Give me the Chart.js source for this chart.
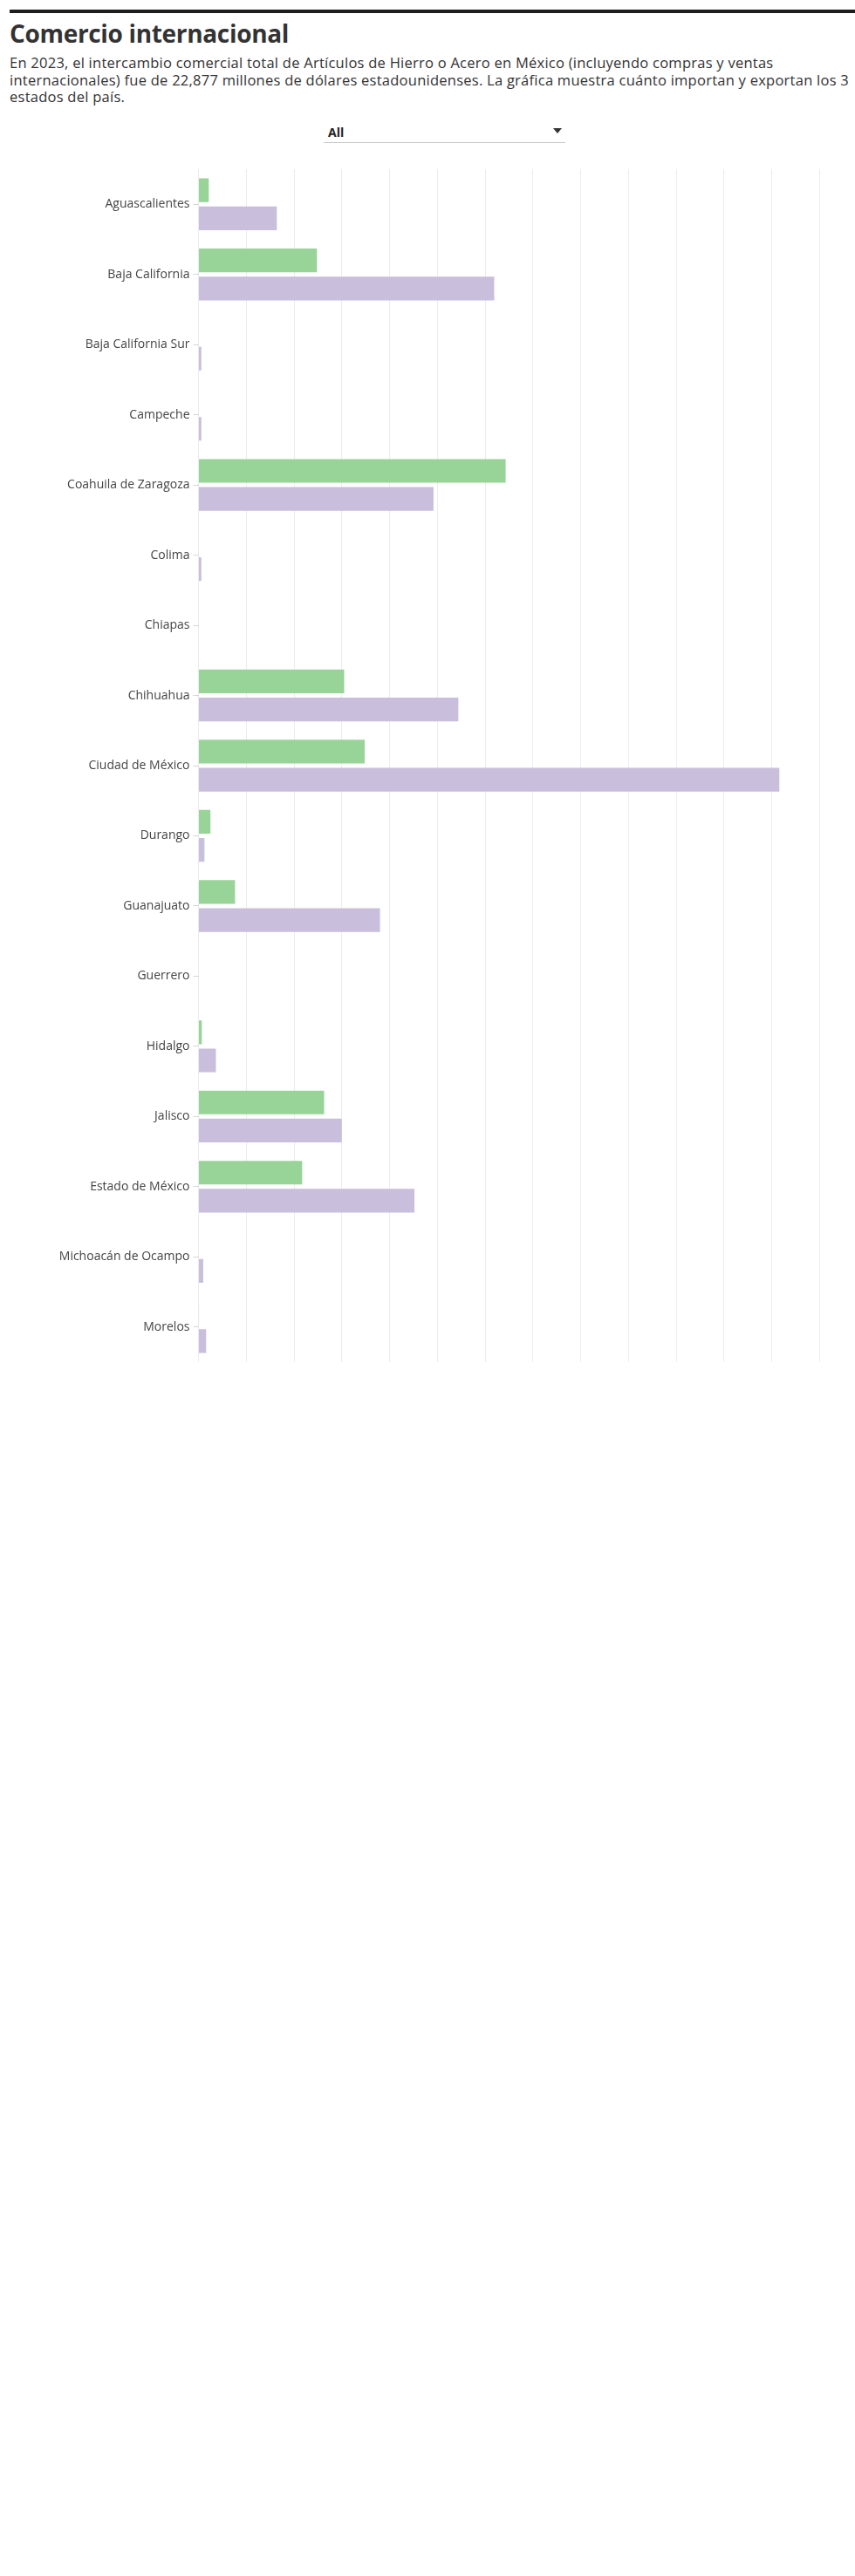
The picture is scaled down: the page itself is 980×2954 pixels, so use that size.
<!DOCTYPE html>
<html lang="es">
<head>
<meta charset="utf-8">
<title>Comercio internacional</title>
<script src="https://cdn.jsdelivr.net/npm/chart.js@4.4.1/dist/chart.umd.min.js"></script>
<style>
  html, body { margin: 0; padding: 0; background: #fff; }
  body { width: 980px; height: 2954px; position: relative; font-family: "Open Sans", "Noto Sans", sans-serif; color: #333; overflow: hidden; }
  .rule { position: absolute; left: 11px; right: 0; top: 11px; height: 4px; background: #1e1e1e; }
  h1 { position: absolute; left: 11px; top: 18.4px; margin: 0; font-size: 28px; font-weight: 700; line-height: 40px; color: #333; white-space: nowrap; }
  .sub { position: absolute; left: 11px; top: 62.3px; margin: 0; font-size: 16.5px; line-height: 19.5px; color: #333; }
  .sub span { display: block; white-space: nowrap; }
  .dd { position: absolute; left: 371px; top: 141px; width: 277px; height: 22px; border-bottom: 1px solid #c8c8c8; }
  .dd .v { position: absolute; left: 5px; top: 0.7px; font-size: 14px; font-weight: 700; color: #222; }
  .dd .arr { position: absolute; right: 4px; top: 6px; width: 0; height: 0; border-left: 5.5px solid transparent; border-right: 5.5px solid transparent; border-top: 6px solid #333; }
  #wrap { position: absolute; left: 0; top: 194px; width: 980px; height: 1368px; }
</style>
</head>
<body>
<div class="rule"></div>
<h1 id="title">Comercio internacional</h1>
<div class="sub">
  <span id="l1">En 2023, el intercambio comercial total de Artículos de Hierro o Acero en México (incluyendo compras y ventas</span>
  <span id="l2">internacionales) fue de 22,877 millones de dólares estadounidenses. La gráfica muestra cuánto importan y exportan los 3</span>
  <span id="l3">estados del país.</span>
</div>
<div class="dd"><span class="v">All</span><span class="arr"></span></div>
<div id="wrap"><canvas id="c"></canvas></div>
<script>
// Categories (states)
const states = [
  "Aguascalientes", "Baja California", "Baja California Sur", "Campeche",
  "Coahuila de Zaragoza", "Colima", "Chiapas", "Chihuahua", "Ciudad de México",
  "Durango", "Guanajuato", "Guerrero", "Hidalgo", "Jalisco", "Estado de México",
  "Michoacán de Ocampo", "Morelos"
];
// Exportaciones (green), millones de USD (estimated)
const exportaciones = [43, 496, 0, 0, 1286, 0, 0, 610, 696, 50, 153, 0, 14, 526, 434, 0, 2];
// Importaciones (purple), millones de USD (estimated)
const importaciones = [328, 1238, 12, 12, 984, 12, 0, 1088, 2432, 25, 760, 0, 73, 600, 904, 20, 32];
// Value axis (hidden ticks)
const xMin = 0;
const xMax = 2600;
const xStep = 200;

const greenColor = "#98d398";
const purpleColor = "#c9bedb";

// Fit header text widths to the reference measurements via letter-spacing
function fitWidth(el, target) {
  const w = el.getBoundingClientRect().width;
  const n = el.textContent.length;
  if (n > 1 && w > 0) {
    return (target - w) / n;
  }
  return 0;
}
const titleEl = document.getElementById("title");
titleEl.style.letterSpacing = fitWidth(titleEl, 320) + "px";
const l2 = document.getElementById("l2");
document.querySelector(".sub").style.letterSpacing = fitWidth(l2, 962) + "px";

new Chart(document.getElementById("c"), {
  type: "bar",
  data: {
    labels: states,
    datasets: [
      { label: "Exportaciones", data: exportaciones, backgroundColor: greenColor, borderWidth: 0,
        barPercentage: 0.845, categoryPercentage: 0.80 },
      { label: "Importaciones", data: importaciones, backgroundColor: purpleColor, borderWidth: 0,
        barPercentage: 0.845, categoryPercentage: 0.80 }
    ]
  },
  options: {
    indexAxis: "y",
    responsive: true,
    maintainAspectRatio: false,
    animation: false,
    layout: { padding: { left: 0, right: 40.7, top: 0, bottom: 0 } },
    plugins: { legend: { display: false }, tooltip: { enabled: false }, title: { display: false } },
    scales: {
      x: {
        min: xMin, max: xMax,
        ticks: { display: false, stepSize: xStep },
        grid: { color: "#ececec", lineWidth: 1, drawTicks: false },
        border: { display: false },
        afterFit: (axis) => { axis.height = 0; axis.paddingLeft = 0; axis.paddingRight = 0; }
      },
      y: {
        ticks: { color: "#444", font: { family: "'Open Sans'", size: 14 }, padding: 4, autoSkip: false },
        grid: { drawOnChartArea: false, drawTicks: true, tickLength: 6, offset: false, color: "#d6d6d6" },
        border: { display: false },
        afterFit: (axis) => { axis.width = 227.5; axis.paddingTop = 0; axis.paddingBottom = 0; }
      }
    }
  }
});
</script>
</body>
</html>
